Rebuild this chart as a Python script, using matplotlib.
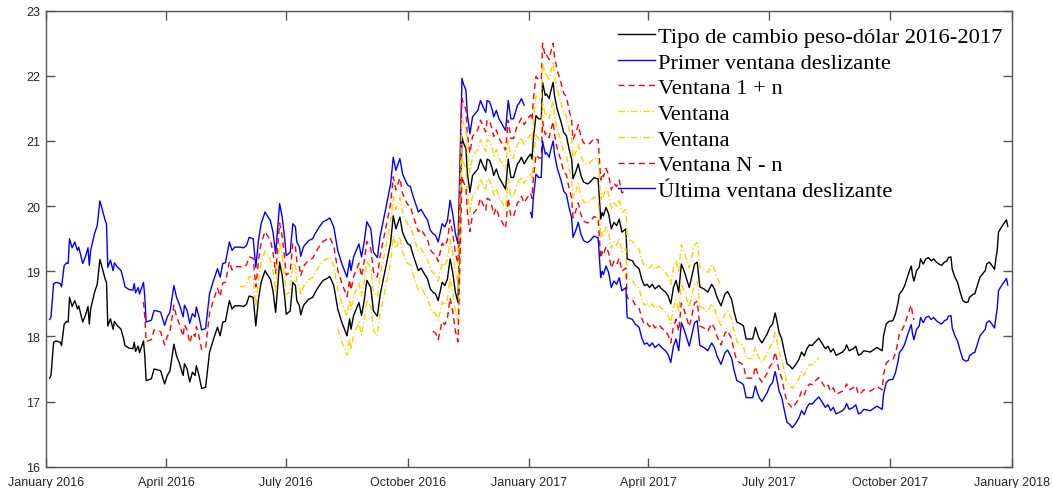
import matplotlib
matplotlib.use("Agg")
import matplotlib.pyplot as plt
import numpy as np
import pandas as pd

# ---------------- data ----------------
base_date = "2016-01-01"
days = [3, 4, 6, 8, 11, 12, 14, 16, 17, 18, 20, 22, 24, 25, 28, 30, 32, 33, 34, 37, 39, 41, 42, 45, 46, 47, 49, 51, 52, 54,
        57, 59, 60, 63, 66, 67, 68, 70, 71, 74, 75, 76, 80, 82, 86, 87, 90, 92, 94, 97, 99, 101, 104, 105, 107, 109, 111, 113, 114, 116,
        118, 121, 124, 127, 130, 132, 134, 136, 139, 141, 143, 147, 150, 152, 154, 157, 159, 161, 163, 166, 168, 170, 172, 174, 177, 179, 181, 182, 185, 187,
        189, 190, 192, 193, 195, 196, 199, 202, 204, 207, 210, 213, 215, 218, 221, 224, 228, 230, 231, 233, 237, 239, 241, 243, 246, 248, 251, 253, 257, 261,
        263, 265, 268, 270, 272, 274, 276, 277, 279, 282, 284, 286, 289, 291, 293, 295, 297, 300, 302, 304, 306, 308, 310, 312, 315, 316, 318, 319, 321, 323,
        325, 327, 329, 331, 333, 334, 336, 338, 339, 341, 343, 345, 348, 350, 352, 354, 357, 358, 360, 362, 365, 367, 368, 369, 371, 373, 375, 376, 378, 379,
        381, 382, 384, 385, 387, 390, 392, 394, 396, 398, 399, 401, 403, 405, 407, 410, 412, 415, 417, 418, 420, 421, 422, 424, 426, 428, 430, 432, 434, 436,
        439, 440, 444, 446, 449, 451, 453, 455, 457, 459, 461, 464, 466, 469, 471, 473, 475, 477, 479, 481, 483, 485, 487, 489, 491, 493, 495, 498, 501, 504,
        506, 508, 511, 514, 516, 519, 521, 523, 526, 528, 530, 532, 535, 537, 539, 540, 542, 544, 546, 548, 550, 552, 553, 555, 557, 559, 561, 563, 565, 568,
        570, 572, 574, 576, 578, 580, 582, 585, 587, 590, 592, 594, 596, 598, 600, 603, 605, 606, 608, 611, 613, 615, 617, 619, 624, 629, 633, 634, 636, 638,
        641, 643, 645, 646, 648, 650, 652, 654, 655, 656, 657, 659, 661, 662, 664, 666, 668, 670, 672, 674, 676, 678, 680, 682, 683, 685, 686, 688, 690, 692,
        694, 696, 698, 699, 702, 703, 705, 707, 709, 711, 712, 714, 716, 718, 719, 720, 721, 723, 725, 727, 728]
rate = [17.36, 17.40, 17.91, 17.93, 17.91, 17.86, 18.19, 18.23, 18.22, 18.60, 18.46, 18.55, 18.42, 18.47, 18.22, 18.32, 18.46, 18.19, 18.42, 18.68, 18.80, 19.18, 19.11, 18.88, 18.83, 18.16, 18.27, 18.11, 18.23, 18.17,
        18.11, 17.96, 17.86, 17.82, 17.81, 17.91, 17.77, 17.85, 17.75, 17.93, 17.70, 17.32, 17.35, 17.50, 17.48, 17.47, 17.27, 17.40, 17.47, 17.88, 17.70, 17.60, 17.40, 17.58, 17.50, 17.30, 17.45, 17.40, 17.55, 17.40,
        17.20, 17.22, 17.76, 17.96, 18.14, 18.01, 18.22, 18.23, 18.55, 18.42, 18.47, 18.47, 18.46, 18.50, 18.62, 18.60, 18.16, 18.57, 18.83, 19.01, 18.94, 18.88, 18.70, 18.37, 19.14, 18.93, 18.57, 18.34, 18.39, 18.83,
        18.78, 18.55, 18.47, 18.33, 18.47, 18.50, 18.57, 18.60, 18.68, 18.78, 18.86, 18.89, 18.92, 18.78, 18.42, 18.22, 18.01, 18.27, 18.11, 18.32, 18.52, 18.32, 18.55, 18.86, 18.75, 18.39, 18.31, 18.63, 19.03, 19.44,
        19.85, 19.65, 19.83, 19.60, 19.50, 19.42, 19.40, 19.32, 19.19, 19.01, 19.05, 18.98, 18.88, 18.73, 18.68, 18.65, 18.55, 18.83, 18.78, 18.88, 19.19, 18.98, 18.68, 18.52, 21.06, 20.98, 20.88, 20.52, 20.21, 20.47,
        20.52, 20.57, 20.72, 20.62, 20.54, 20.72, 20.70, 20.57, 20.47, 20.57, 20.44, 20.37, 20.26, 20.72, 20.44, 20.44, 20.65, 20.67, 20.75, 20.65, 20.75, 20.80, 20.72, 21.03, 21.39, 21.34, 21.34, 21.90, 21.70, 21.72,
        21.65, 21.75, 21.90, 21.70, 21.49, 21.29, 21.13, 21.08, 20.88, 20.72, 20.42, 20.52, 20.65, 20.47, 20.37, 20.34, 20.37, 20.44, 20.42, 20.42, 19.80, 19.90, 19.85, 19.98, 19.88, 19.65, 19.75, 19.70, 19.80, 19.60,
        19.65, 19.19, 19.16, 19.09, 19.04, 18.88, 18.78, 18.80, 18.75, 18.80, 18.73, 18.78, 18.73, 18.68, 18.62, 18.50, 18.75, 18.86, 18.68, 19.11, 19.01, 18.88, 18.75, 18.93, 19.11, 19.14, 18.76, 18.73, 18.68, 18.80,
        18.73, 18.60, 18.47, 18.65, 18.69, 18.57, 18.37, 18.22, 18.19, 18.16, 17.96, 17.96, 17.96, 18.14, 18.01, 17.96, 17.90, 17.97, 18.04, 18.14, 18.19, 18.36, 18.27, 18.06, 17.96, 17.76, 17.58, 17.55, 17.50, 17.58,
        17.65, 17.76, 17.70, 17.81, 17.87, 17.86, 17.91, 17.97, 17.91, 17.81, 17.85, 17.76, 17.81, 17.71, 17.73, 17.76, 17.81, 17.87, 17.78, 17.81, 17.85, 17.71, 17.73, 17.78, 17.76, 17.83, 17.78, 18.01, 18.19, 18.23,
        18.24, 18.34, 18.52, 18.65, 18.70, 18.78, 18.91, 19.03, 19.08, 18.93, 18.85, 19.01, 19.06, 19.19, 19.11, 19.19, 19.21, 19.16, 19.19, 19.14, 19.11, 19.09, 19.14, 19.16, 19.21, 19.22, 19.03, 18.91, 18.83, 18.68,
        18.55, 18.52, 18.53, 18.60, 18.65, 18.65, 18.78, 18.91, 18.96, 19.01, 19.11, 19.14, 19.09, 19.03, 19.19, 19.32, 19.60, 19.67, 19.73, 19.79, 19.69]

window_labels = ["Primer ventana deslizante", "Ventana 1 + n", "Ventana", "Ventana", "Ventana N - n",
                 "Última ventana deslizante"]
window_starts = ["2016-01-04", "2016-03-15", "2016-05-27", "2016-08-09", "2016-10-20", "2017-01-02"]
window_ends = ["2016-12-29", "2017-03-15", "2017-05-26", "2017-08-08", "2017-10-19", "2017-12-29"]
window_offsets = [0.9, 0.6, 0.3, -0.3, -0.6, -0.9]
series_label = "Tipo de cambio peso-dólar 2016-2017"

tick_dates = ["2016-01-01", "2016-04-01", "2016-07-01", "2016-10-01", "2017-01-01",
              "2017-04-01", "2017-07-01", "2017-10-01", "2018-01-01"]
tick_labels = ["January 2016", "April 2016", "July 2016", "October 2016", "January 2017",
               "April 2017", "July 2017", "October 2017", "January 2018"]

# ---------------- plot ----------------
dates = pd.Timestamp(base_date) + pd.to_timedelta(days, unit="D")
rate = np.array(rate)

fig = plt.figure(figsize=(10.53, 4.89), dpi=100)
ax = fig.add_axes([0.0434, 0.0436, 0.9174, 0.9325])

yellow = "#FFD000"
styles = [
    dict(color="#0000FF", ls="-"),
    dict(color="#FF0000", ls=(0, (4.3, 3.0))),
    dict(color=yellow, ls=(0, (4.5, 1.8, 0.9, 1.8))),
    dict(color=yellow, ls=(0, (4.5, 1.8, 0.9, 1.8))),
    dict(color="#FF0000", ls=(0, (4.3, 3.0))),
    dict(color="#0000FF", ls="-"),
]

ax.plot(dates, rate, color="black", lw=1.0, label=series_label)
for lab, s, e, off, st in zip(window_labels, window_starts, window_ends, window_offsets, styles):
    m = (dates >= pd.Timestamp(s)) & (dates <= pd.Timestamp(e))
    ax.plot(dates[m], rate[m] + off, lw=1.0, label=lab, **st)

ax.set_xlim(pd.Timestamp("2016-01-01"), pd.Timestamp("2018-01-01"))
ax.set_ylim(16, 23)
ax.set_yticks(range(16, 24))
ax.set_xticks(pd.to_datetime(tick_dates))
ax.set_xticklabels(tick_labels)

axis_col = "#555555"
for sp in ax.spines.values():
    sp.set_color(axis_col)
    sp.set_linewidth(1.0)
ax.tick_params(direction="in", length=6.8, width=1.0, color=axis_col, top=True, right=True,
               labelsize=9.0, labelcolor="#262626")
ax.tick_params(axis="x", pad=7.0)
ax.tick_params(axis="y", pad=4)
for t in ax.get_xticklabels() + ax.get_yticklabels():
    t.set_family("Liberation Sans")

leg = ax.legend(loc="upper left", bbox_to_anchor=(0.5925, 0.966), frameon=False,
                prop={"family": "Liberation Serif", "size": 16.2},
                handlelength=1.62, handletextpad=0.14, labelspacing=0.22,
                borderpad=0, borderaxespad=0)

fig.savefig("out.png", dpi=100)
